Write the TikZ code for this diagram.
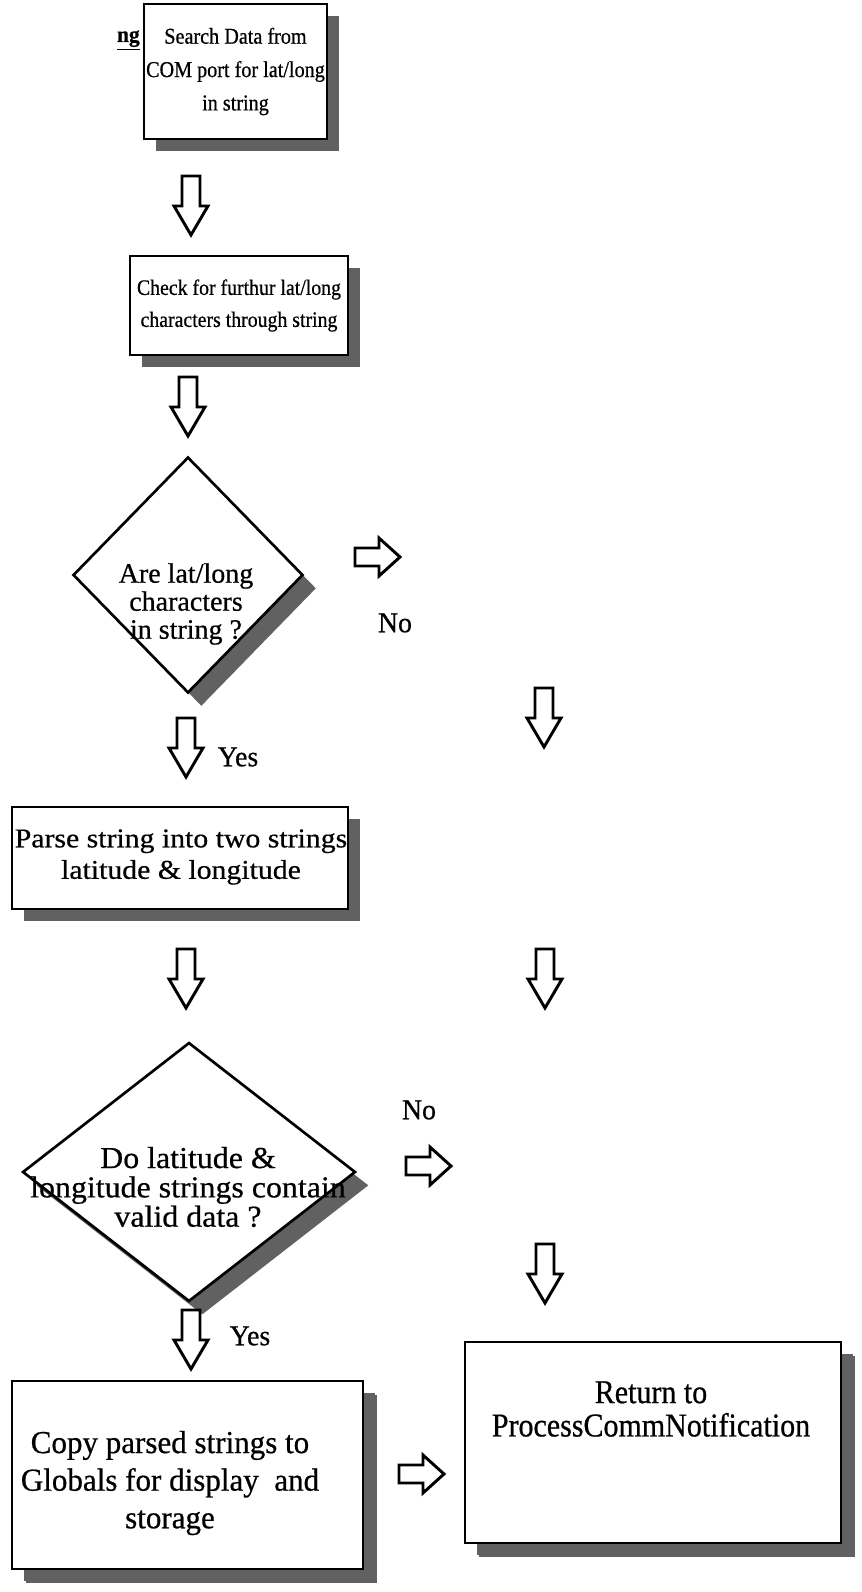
\documentclass[tikz,border=0pt]{standalone}
\usepackage{fontspec}
\setmainfont{Liberation Serif}[FakeBold=0.6]
\usetikzlibrary{shapes.geometric,shadows}
\definecolor{shadowgray}{gray}{0.38}
% size, baselineskip, horizontal stretch
\newcommand\fsz[3]{\fontsize{#1}{#2}\selectfont\addfontfeatures{FakeStretch=#3}}

\tikzset{
  flowbox/.style={draw=black, line width=1.8pt, fill=white, rectangle, inner sep=0pt,
    general shadow={fill=shadowgray, draw=none, shadow xshift=9pt, shadow yshift=-9pt}},
  bigbox/.style={flowbox,
    general shadow={fill=shadowgray, draw=none, shadow xshift=10.5pt, shadow yshift=-10.5pt}},
  decision/.style={draw=black, line width=2pt, fill=white, diamond, inner sep=0pt,
    general shadow={fill=shadowgray, draw=none, shadow xshift=10pt, shadow yshift=-10pt}},
  txt/.style={inner sep=0pt, align=center},
  blockdown/.pic={\draw[line width=2.2pt, fill=white]
    (-9,0) -- (-9,30) -- (-17,30) -- (0,59) -- (17,30) -- (9,30) -- (9,0) -- cycle;},
  blockright/.pic={\draw[line width=2.2pt, fill=white]
    (0,-9) -- (24,-9) -- (24,-19) -- (45,0) -- (24,19) -- (24,9) -- (0,9) -- cycle;},
}

\begin{document}
\begin{tikzpicture}[x=0.75pt,y=-0.75pt]
\useasboundingbox (0,0) rectangle (861,1592);
\fill[white] (0,0) rectangle (861,1592);

% heading fragment at the top left
\node[txt, anchor=east, font=\fsz{17}{18}{0.95}\bfseries] (ttl) at (140,40) {\underline{ng}};

% process boxes
\node[flowbox, minimum width=183*0.75pt, minimum height=135*0.75pt] (b1) at (235.5,71.5) {};
\node[txt, font=\fsz{17}{25}{0.89}] (t1) at (b1) {Search Data from\\COM port for lat/long\\in string};

\node[flowbox, minimum width=218*0.75pt, minimum height=99*0.75pt] (b2) at (239,305.5) {};
\node[txt, font=\fsz{16.5}{24}{0.9}] (t2) at (b2) {Check for furthur lat/long\\characters through string};

\node[decision, minimum width=230*0.75pt, minimum height=236*0.75pt] (d1) at (188,575) {};
\node[txt, font=\fsz{21}{21}{1.0}] (t3) at (186,604) {Are lat/long\\characters\\in string ?};

\node[flowbox, minimum width=336*0.75pt, minimum height=102*0.75pt] (b3) at (180,858) {};
\node[txt, font=\fsz{20.3}{23.6}{1.1}] (t4) at (181,857) {Parse string into two strings\\latitude \& longitude};

\node[decision, minimum width=333*0.75pt, minimum height=259*0.75pt] (d2) at (189,1172) {};
\node[txt, font=\fsz{22.8}{22}{1.05}] (t5) at (188,1187) {Do latitude \&\\longitude strings contain\\valid data ?};

\node[bigbox, minimum width=351*0.75pt, minimum height=188*0.75pt] (b4) at (187.5,1475) {};
\node[txt, font=\fsz{24}{28.2}{0.97}] (t6) at (170,1483) {Copy parsed strings to\\Globals for display \ and\\storage};

\node[bigbox, minimum width=376*0.75pt, minimum height=201*0.75pt] (b5) at (653,1442.5) {};
\node[txt, font=\fsz{25}{25}{0.9}] (t7) at (651,1409) {Return to\\ProcessCommNotification};

% block arrows, left column
\pic at (191,176) {blockdown};
\pic at (188,377) {blockdown};
\pic at (186,718) {blockdown};
\pic at (186,949) {blockdown};
\pic at (191,1310) {blockdown};

% block arrows, right column
\pic at (544,688) {blockdown};
\pic at (545,949) {blockdown};
\pic at (545,1244) {blockdown};

% block arrows pointing right
\pic at (355,557) {blockright};
\pic at (406,1166) {blockright};
\pic at (399,1474) {blockright};

% branch labels
\node[txt, font=\fsz{21.5}{24}{0.97}] (no1) at (395,623) {No};
\node[txt, font=\fsz{21.5}{24}{0.97}] (yes1) at (238,757) {Yes};
\node[txt, font=\fsz{21.5}{24}{0.97}] (no2) at (419,1110) {No};
\node[txt, font=\fsz{21.5}{24}{0.97}] (yes2) at (250,1336) {Yes};
\end{tikzpicture}
\end{document}
